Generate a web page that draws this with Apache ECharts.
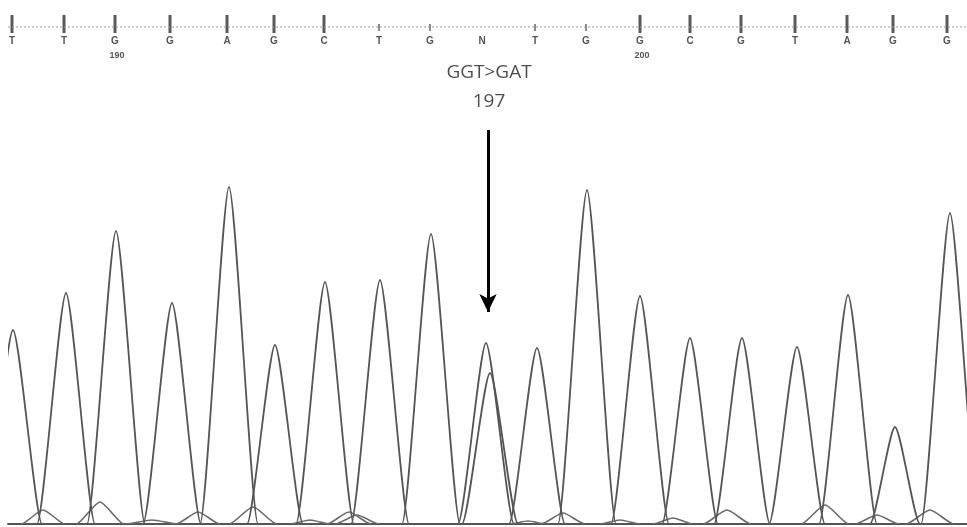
<!DOCTYPE html>
<html><head><meta charset="utf-8">
<script src="https://cdn.jsdelivr.net/npm/echarts@6/dist/echarts.min.js"></script>
<style>html,body{margin:0;padding:0;background:#fff}#c{width:967px;height:527px}</style>
</head><body><div id="c"></div>
<script>
// ---- base-call ruler ----
const baseCalls     = ['T','T','G','G','A','G','C','T','G','N','T','G','G','C','G','T','A','G','G'];
const basePositions = [12,64,115,170,227,274,324,379,430,482,535,586,640,690,741,795,847,893,947];
const baseNumbers   = ['','','190','','','','','','','','','','200','','','','','',''];
const baseTickKind  = ['tall','tall','tall','tall','tall','tall','tall','short','short','none','short','short','tall','tall','tall','tall','tall','tall','tall'];

// ---- main trace peaks: scan position, signal height, half-width ----
const peakPos    = [13,66,116,172,229,275,325,380,431,486,490,537,587,640,690,742,797,848,895,950];
const peakHeight = [194,231,293,221,337,179,242,244,290,181,151,176,334,228,186,186,177,229,97,311];
const peakWidth  = [29,29,29,29,29,28,29,29,29,28,28,28,29,29,28,28,28,29,25,29];

// ---- minor background bumps ----
const minorPos    = [43,100,152,198,253,310,349,357,528,563,620,673,727,825,877,930];
const minorHeight = [14,22,4,12,17,4,12,9,3,11,4,6,14,19,9,14];
const minorWidth  = [22,24,26,22,24,20,22,22,18,22,20,20,24,24,22,24];

// ---- annotation ----
const mutationPos = 488;
const mutationText = 'GGT>GAT';
const codonText = '197';
const arrowFrom = 394, arrowTo = 212;
const textLevels = [451, 422];

const peaks = peakPos.map((p, i) => [p, peakHeight[i], peakWidth[i]]);
const minors = minorPos.map((p, i) => [p, minorHeight[i], minorWidth[i]]);

function peakRenderer(color, lw) {
  return function (params, api) {
    const x = api.value(0), h = api.value(1), w = api.value(2);
    const f0 = api.coord([x - w, 0]), ap = api.coord([x, h]), f1 = api.coord([x + w, 0]);
    const c1 = api.coord([x - 0.78 * w, 0]), c2 = api.coord([x - 0.22 * w, h]);
    const c3 = api.coord([x + 0.22 * w, h]), c4 = api.coord([x + 0.78 * w, 0]);
    const d = 'M' + f0[0] + ' ' + f0[1] +
      ' C' + c1[0] + ' ' + c1[1] + ' ' + c2[0] + ' ' + c2[1] + ' ' + ap[0] + ' ' + ap[1] +
      ' C' + c3[0] + ' ' + c3[1] + ' ' + c4[0] + ' ' + c4[1] + ' ' + f1[0] + ' ' + f1[1];
    return { type: 'path', shape: { pathData: d }, style: { fill: 'none', stroke: color, lineWidth: lw } };
  };
}

function rulerRenderer(params, api) {
  const i = params.dataIndex;
  const x = api.coord([api.value(0), 0])[0];
  const top = params.coordSys.y;
  const children = [];
  const kind = baseTickKind[i];
  if (kind === 'tall') {
    children.push({ type: 'rect', shape: { x: x - 1.5, y: top + 15, width: 3, height: 18 }, style: { fill: '#5a5a5a' } });
  } else if (kind === 'short') {
    children.push({ type: 'rect', shape: { x: x - 1, y: top + 24, width: 2, height: 7 }, style: { fill: '#8a8a8a' } });
  }
  children.push({ type: 'text', style: { text: baseCalls[i], x: x, y: top + 41.5, align: 'center', verticalAlign: 'middle',
    font: 'bold 10px "Liberation Sans"', fill: '#555' } });
  if (baseNumbers[i]) {
    children.push({ type: 'text', style: { text: baseNumbers[i], x: x + 2, y: top + 56, align: 'center', verticalAlign: 'middle',
      font: 'bold 9px "Liberation Sans"', fill: '#555' } });
  }
  return { type: 'group', children: children };
}

const chart = echarts.init(document.getElementById('c'), null, { renderer: 'canvas' });
chart.setOption({
  animation: false,
  backgroundColor: '#fff',
  grid: { left: 8, right: 0, top: 0, bottom: 3 },
  xAxis: { type: 'value', min: 8, max: 967, axisLabel: { show: false }, axisTick: { show: false }, splitLine: { show: false },
    axisLine: { show: true, lineStyle: { color: '#555', width: 2 } } },
  yAxis: { type: 'value', min: 0, max: 524, show: false },
  series: [
    { type: 'line', data: [[8, 497], [967, 497]], symbol: 'none', silent: true,
      lineStyle: { color: '#9a9a9a', width: 1, type: [2, 2] } },
    { type: 'custom', data: basePositions.map(p => [p, 497]), renderItem: rulerRenderer, clip: false, silent: true },
    { type: 'custom', data: minors, renderItem: peakRenderer('#6a6a6a', 1.6), clip: true, silent: true, encode: { x: 0, y: 1 } },
    { type: 'custom', data: peaks, renderItem: peakRenderer('#555555', 1.8), clip: true, silent: true, encode: { x: 0, y: 1 } },
    { type: 'scatter', symbolSize: 0, silent: true,
      data: [[mutationPos + 1, textLevels[0], mutationText], [mutationPos + 1, textLevels[1], codonText]],
      label: { show: true, position: 'inside', formatter: p => p.data[2], fontFamily: 'Open Sans', fontSize: 19, color: '#1e1e1e' },
      markLine: { silent: true, symbol: ['none', 'arrow'], symbolSize: [13, 18], label: { show: false },
        lineStyle: { color: '#000', width: 3, type: 'solid' },
        data: [[{ coord: [mutationPos, arrowFrom] }, { coord: [mutationPos, arrowTo] }]] } }
  ]
});
</script></body></html>
